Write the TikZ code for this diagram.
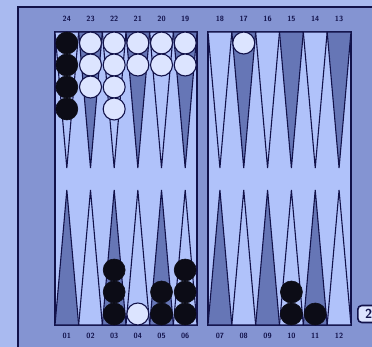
\documentclass[tikz,border=0pt]{standalone}
\usepackage{tikz}
\usetikzlibrary{calc}

\definecolor{bgblue}{HTML}{A9BAF0}
\definecolor{framedot}{HTML}{8494D2}
\definecolor{inner}{HTML}{B0C2FA}
\definecolor{pointdark}{HTML}{6676B6}
\definecolor{edge}{HTML}{12124A}
\definecolor{chkwhite}{HTML}{DCE4FF}
\definecolor{chkblack}{HTML}{0C0C16}

\tikzset{
  darkpoint/.style={fill=pointdark, draw=edge, line width=1.1pt},
  lightpoint/.style={fill=inner, draw=edge, line width=1.1pt},
  whitechk/.style={fill=chkwhite, draw=edge, line width=1.1pt},
  blackchk/.style={fill=chkblack, draw=chkblack, line width=0.6pt},
  ptlabel/.style={font=\sffamily\bfseries\fontsize{7.5}{7.5}\selectfont, text=edge, inner sep=0pt},
  cubebox/.style={draw=edge, line width=1.6pt, rounded corners=4pt, fill=chkwhite,
    minimum width=22pt, minimum height=17pt, inner sep=0pt,
    font=\sffamily\bfseries\fontsize{13}{13}\selectfont, text=edge}
}

\begin{document}
\begin{tikzpicture}[x=1pt,y=-1pt]
\useasboundingbox (0,0) rectangle (372,347);
\clip (0,0) rectangle (372,347);
\fill[bgblue] (0,0) rectangle (372,347);
% board frame and the two halves
\draw[edge, line width=1.5pt, fill=framedot] (18,7) rectangle (395,365);
\draw[edge, line width=1.2pt, fill=inner] (55,32) rectangle (197,325);
\draw[edge, line width=1.2pt, fill=inner] (208,32) rectangle (351,325);
% points and their numbers
\foreach \xo/\w/\ftop/\fbot in {55/23.67/24/1, 208/23.83/18/7}
  \foreach \k in {0,...,5}{
    \pgfmathsetmacro{\xa}{\xo+\w*\k}
    \pgfmathsetmacro{\xb}{\xa+\w}
    \pgfmathsetmacro{\xm}{\xa+\w/2}
    \pgfmathtruncatemacro{\nt}{\ftop-\k}
    \pgfmathtruncatemacro{\nb}{\fbot+\k}
    \pgfmathtruncatemacro{\oddt}{mod(\nt,2)}
    \pgfmathtruncatemacro{\oddb}{mod(\nb,2)}
    \ifnum\oddt=1 \def\st{darkpoint}\else \def\st{lightpoint}\fi
    \ifnum\oddb=1 \def\sb{darkpoint}\else \def\sb{lightpoint}\fi
    \draw[\st] (\xa,32) -- (\xm,168) -- (\xb,32) -- cycle;
    \draw[\sb] (\xa,325) -- (\xm,190) -- (\xb,325) -- cycle;
    \coordinate (pt\nt) at (\xm,32);
    \coordinate (pb\nb) at (\xm,325);
    \node[ptlabel] (lbl\nt) at (\xm,19) {\nt};
    \node[ptlabel] (lbl\nb) at (\xm,336) {\ifnum\nb<10 0\fi\nb};
  }
% checkers on the top points
\foreach \n/\c/\s in {24/4/blackchk, 23/3/whitechk, 22/4/whitechk, 21/2/whitechk,
                      20/2/whitechk, 19/2/whitechk, 17/1/whitechk}
  \foreach \j in {1,...,\c}
    \draw[\s] ($(pt\n)+(0,11+22*\j-22)$) circle (11);
% checkers on the bottom points
\foreach \n/\c/\s in {3/3/blackchk, 4/1/whitechk, 5/2/blackchk, 6/3/blackchk,
                      10/2/blackchk, 11/1/blackchk}
  \foreach \j in {1,...,\c}
    \draw[\s] ($(pb\n)+(0,-11-22*\j+22)$) circle (11);
% doubling cube
\node[cubebox, anchor=west] (cube) at (357,314) {2};
\end{tikzpicture}
\end{document}
